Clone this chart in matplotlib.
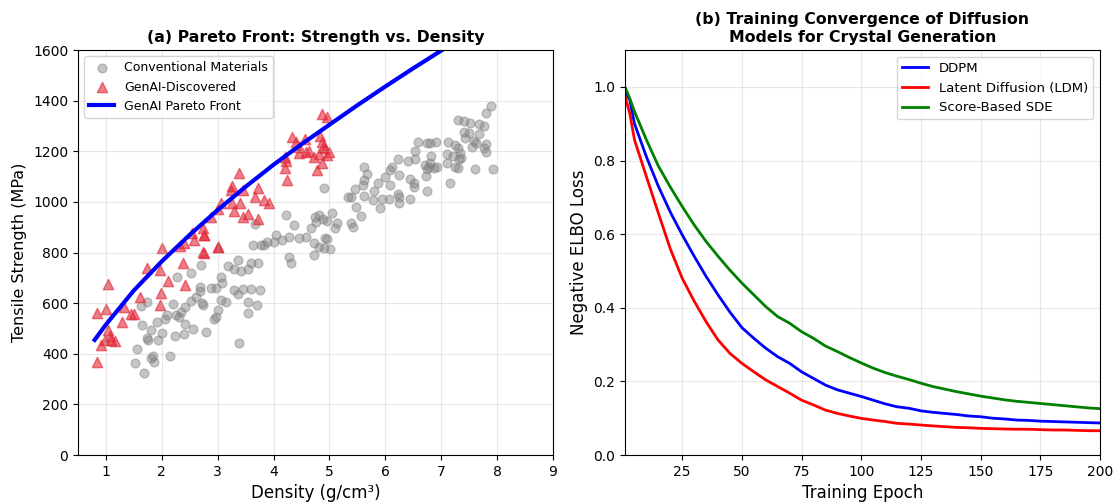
import numpy as np
import matplotlib
matplotlib.use('Agg')
import matplotlib.pyplot as plt

# (a) conventional materials: density (g/cm3), tensile strength (MPa)
conv_density = [1.55, 1.53, 1.68, 1.64, 1.73, 1.75, 1.81, 1.84, 1.87, 1.81, 1.62, 1.73, 1.93, 1.92,
                2.0, 2.05, 2.1, 2.14, 2.2, 2.26, 2.24, 2.3, 2.35, 2.4, 2.41, 2.41, 2.28, 2.53, 2.56,
                2.52, 2.62, 2.68, 2.71, 2.68, 2.72, 2.73, 2.79, 2.88, 2.97, 3.06, 3.07, 3.06, 3.15,
                3.0, 2.97, 2.94, 3.38, 3.36, 3.18, 3.3, 3.42, 3.54, 3.6, 3.72, 3.3, 3.36, 3.45, 3.6,
                3.75, 3.54, 3.54, 3.7, 3.63, 3.78,
                3.66, 4.22, 4.37, 4.04, 3.89, 3.83, 4.01, 4.16, 4.28, 4.46, 4.58, 4.27, 4.31, 4.67,
                4.76, 4.74, 4.81, 4.89, 4.96, 5.05, 5.14, 5.1, 4.92, 4.96, 4.73, 4.81, 4.9, 5.01,
                4.73, 4.9, 5.62, 5.68, 5.62, 5.87, 5.46, 5.6, 5.8, 5.34, 5.38, 5.62, 5.78, 5.48,
                5.56, 5.38, 5.42,
                7.9, 7.8, 7.3, 7.4, 7.52, 7.67, 7.77, 7.4, 7.49, 7.68, 7.42, 7.58, 7.62, 7.81, 7.55,
                7.76, 7.8, 7.31, 7.25, 7.34, 7.13, 7.1, 7.22, 7.36, 7.32, 7.1, 7.25, 7.31, 7.61,
                7.92, 7.16, 6.58, 6.75, 6.8, 6.9, 6.54, 6.82, 6.53, 6.41, 6.23, 6.71, 6.8, 6.78,
                6.88, 6.92, 6.75, 6.12, 6.09, 6.25, 6.72, 6.45, 6.51, 6.51, 6.75, 6.0, 6.09, 6.23,
                6.24, 6.24, 6.45, 6.07, 5.94, 5.9]
conv_strength = [418, 365, 325, 514, 461, 454, 494, 391, 369, 382, 589, 606, 454, 527,
                 483, 536, 553, 391, 597, 553, 470, 544, 566, 478, 583, 518, 705, 720, 497,
                 610, 625, 649, 751, 665, 602, 593, 487, 659, 659, 705, 678, 612, 606,
                 573, 544, 536, 444, 770, 747, 734, 728, 734, 757, 757, 652, 636, 655, 655,
                 652, 606, 562, 593, 830, 830,
                 913, 948, 909, 869, 843, 830, 843, 849, 863, 856, 860, 783, 760, 896,
                 922, 942, 948, 931, 926, 957, 918, 896, 856, 852, 836, 823, 817, 813,
                 790, 1054, 1137, 1110, 1087, 1076, 1050, 1067, 1044, 1021, 1021, 1023, 1007, 981,
                 944, 918, 900,
                 1379, 1350, 1324, 1321, 1310, 1308, 1300, 1277, 1271, 1268, 1251, 1242, 1234, 1229, 1216,
                 1212, 1198, 1212, 1225, 1192, 1238, 1189, 1181, 1172, 1168, 1153, 1139, 1133, 1130,
                 1129, 1076, 1238, 1234, 1234, 1238, 1202, 1181, 1168, 1163, 1168, 1146, 1155, 1137,
                 1133, 1139, 1129, 1137, 1126, 1106, 1102, 1089, 1076, 1058, 1044, 1100, 1067, 1031,
                 1021, 997, 1010, 1010, 1010, 975]

# (a) GenAI-discovered materials
gen_density = [0.85, 0.85, 1.01, 1.04, 0.91, 1.04, 0.99, 1.1, 1.16, 1.07, 1.28, 1.33, 1.45, 1.5,
               1.61, 1.74, 1.96, 1.99, 1.96, 2.0, 2.11, 2.38, 2.41, 2.32, 2.4, 2.57, 2.75, 3.0,
               2.75, 2.55,
               3.39, 3.26, 3.24, 3.45, 3.73, 3.67, 3.83, 3.92, 3.06, 3.26, 3.4, 3.3, 3.0, 2.88,
               3.45, 3.54, 3.73, 2.73, 2.76, 2.73, 3.0,
               4.87, 4.95, 4.33, 4.4, 4.57, 4.84, 4.86, 4.46, 4.58, 4.64, 4.73, 4.81, 4.93, 5.0,
               4.96, 4.21, 4.23, 4.21, 4.25, 4.87, 4.78, 4.89, 4.46]
gen_strength = [369, 560, 576, 674, 435, 494, 454, 454, 452, 470, 527, 586, 556, 556,
                625, 738, 731, 639, 593, 817, 689, 760, 672, 826, 839, 849, 869, 820,
                799, 876,
                1113, 1063, 1047, 1047, 1054, 1018, 1007, 997, 994, 994, 997, 965, 971, 939,
                939, 952, 931, 896, 869, 803, 823,
                1347, 1334, 1255, 1238, 1247, 1260, 1238, 1192, 1198, 1202, 1179, 1189, 1212, 1198,
                1185, 1176, 1163, 1133, 1087, 1153, 1126, 1218, 1218]

# (a) Pareto front
front_density = [0.8, 1.0, 1.5, 2.0, 2.5, 3.0, 3.5, 4.0, 4.5, 5.0, 5.5, 6.0, 6.5, 7.0]
front_strength = [455, 515, 650, 765, 870, 968, 1060, 1147, 1228, 1305, 1382, 1456, 1528, 1598]

# (b) training curves, every 5 epochs
epochs = [1, 3, 5, 10, 15, 20, 25, 30, 35, 40, 45, 50, 55, 60, 65, 70, 75, 80, 85, 90, 95,
          100, 105, 110, 115, 120, 125, 130, 135, 140, 145, 150, 155, 160, 165, 170, 175,
          180, 185, 190, 195, 200]
ddpm = [0.985, 0.965, 0.90, 0.81, 0.73, 0.66, 0.598, 0.54, 0.485, 0.435, 0.388, 0.346,
        0.317, 0.29, 0.267, 0.249, 0.226, 0.208, 0.19, 0.177, 0.168, 0.159, 0.149, 0.139,
        0.131, 0.127, 0.12, 0.116, 0.113, 0.11, 0.106, 0.104, 0.1, 0.098, 0.095, 0.094,
        0.092, 0.091, 0.09, 0.089, 0.088, 0.087]
ldm = [0.975, 0.929, 0.856, 0.756, 0.657, 0.56, 0.48, 0.418, 0.362, 0.3125, 0.276, 0.249,
       0.226, 0.204, 0.186, 0.168, 0.149, 0.136, 0.122, 0.113, 0.106, 0.0996, 0.095, 0.091,
       0.086, 0.084, 0.0815, 0.079, 0.077, 0.075, 0.074, 0.0725, 0.0716, 0.0707, 0.07, 0.07,
       0.069, 0.068, 0.068, 0.067, 0.066, 0.066]
sde = [1.0, 0.969, 0.933, 0.856, 0.785, 0.728, 0.675, 0.625, 0.58, 0.54, 0.502, 0.467,
       0.435, 0.403, 0.376, 0.358, 0.335, 0.317, 0.296, 0.281, 0.265, 0.25, 0.236, 0.224,
       0.214, 0.205, 0.195, 0.186, 0.179, 0.172, 0.166, 0.16, 0.155, 0.15, 0.146, 0.143,
       0.14, 0.137, 0.134, 0.131, 0.128, 0.126]

fig = plt.figure(figsize=(11.13, 5.03), dpi=100)
ax1 = fig.add_axes([0.070, 0.0954, 0.4268, 0.805])
ax2 = fig.add_axes([0.5615, 0.0954, 0.4268, 0.805])

ax1.scatter(conv_density, conv_strength, color='gray', alpha=0.45, s=40, label='Conventional Materials')
ax1.scatter(gen_density, gen_strength, color='#e32636', marker='^', alpha=0.6, s=55, label='GenAI-Discovered')
ax1.plot(front_density, front_strength, color='blue', linewidth=3, label='GenAI Pareto Front')
ax1.set_xlim(0.5, 9)
ax1.set_ylim(0, 1600)
ax1.set_xticks(range(1, 10))
ax1.set_xlabel('Density (g/cm³)', fontsize=12)
ax1.set_ylabel('Tensile Strength (MPa)', fontsize=11.5)
ax1.set_title('(a) Pareto Front: Strength vs. Density', fontsize=11.3, fontweight='bold')
ax1.grid(True, alpha=0.3)
ax1.legend(loc='upper left', fontsize=9)

ax2.plot(epochs, ddpm, color='blue', linewidth=2, label='DDPM')
ax2.plot(epochs, ldm, color='red', linewidth=2, label='Latent Diffusion (LDM)')
ax2.plot(epochs, sde, color='green', linewidth=2, label='Score-Based SDE')
ax2.set_xlim(1, 200)
ax2.set_ylim(0, 1.1)
ax2.set_xticks([25, 50, 75, 100, 125, 150, 175, 200])
ax2.set_xlabel('Training Epoch', fontsize=12)
ax2.set_ylabel('Negative ELBO Loss', fontsize=12)
ax2.set_title('(b) Training Convergence of Diffusion\nModels for Crystal Generation', fontsize=11.3, fontweight='bold')
ax2.grid(True, alpha=0.3)
ax2.legend(loc='upper right', fontsize=9.5)

plt.savefig('out.png', dpi=100)
